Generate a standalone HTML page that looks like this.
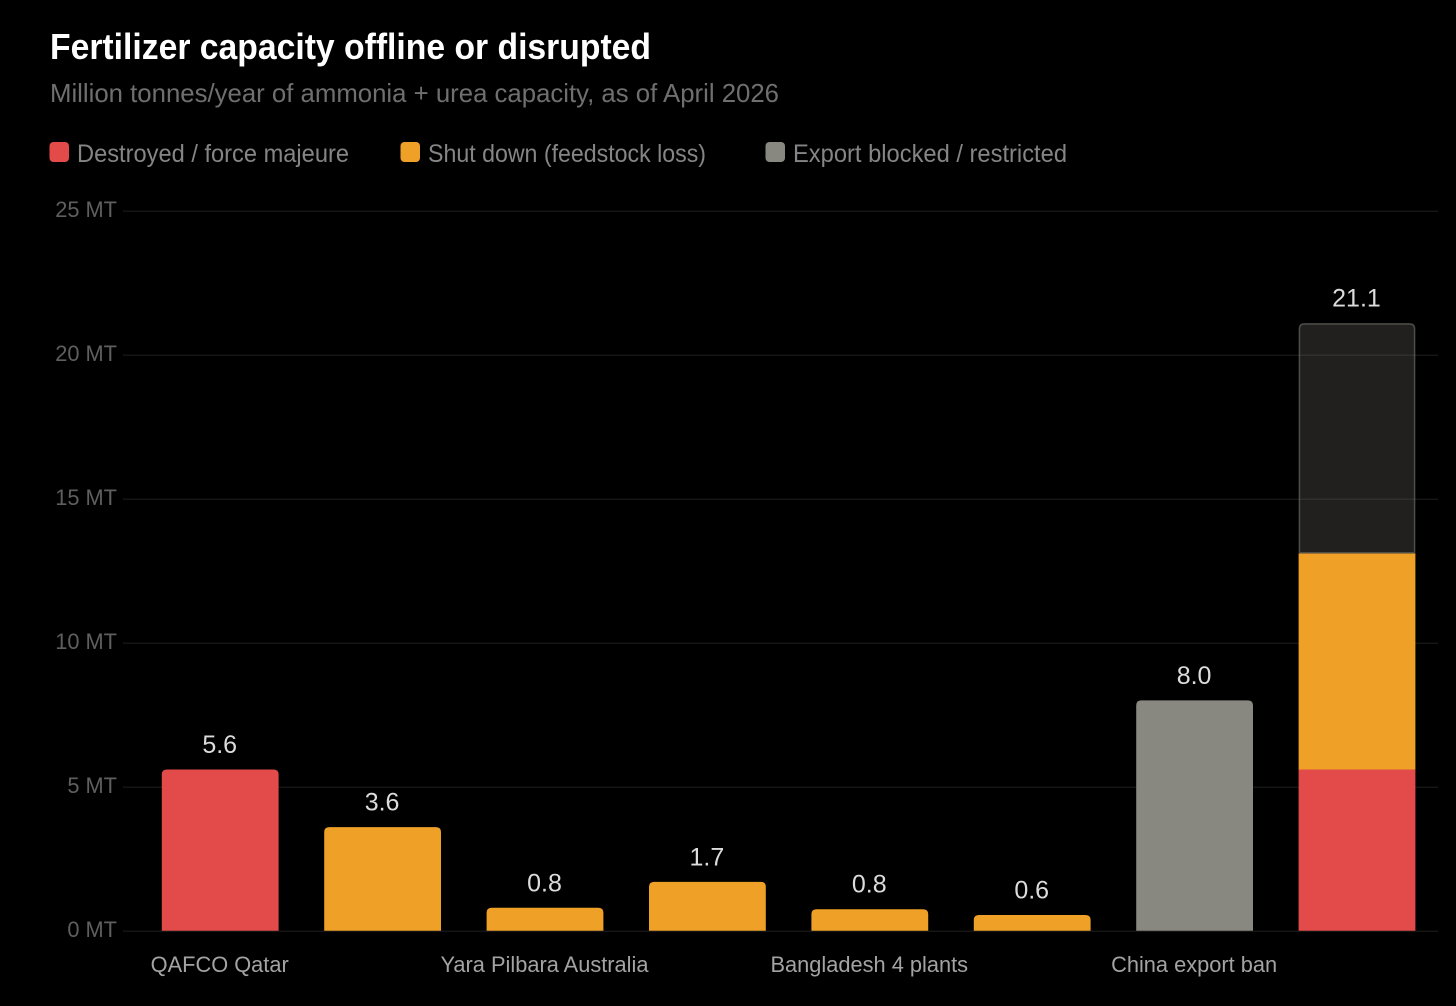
<!DOCTYPE html>
<html lang="en">
<head>
<meta charset="utf-8">
<title>Fertilizer capacity offline or disrupted</title>
<style>
  html, body { margin: 0; padding: 0; background: #000; }
  body { width: 1456px; height: 1006px; overflow: hidden; }
  svg { display: block; font-family: "Liberation Sans", Arial, sans-serif; }
</style>
</head>
<body>
<svg id="chart" width="1456" height="1006" viewBox="0 0 1456 1006" xmlns="http://www.w3.org/2000/svg">
  <rect x="0" y="0" width="1456" height="1006" fill="#000"/>
  <text x="50" y="59" font-size="36" font-weight="700" fill="#fff" textLength="601" lengthAdjust="spacingAndGlyphs">Fertilizer capacity offline or disrupted</text>
  <text x="50" y="102" font-size="26" fill="#6f6f6f" textLength="729" lengthAdjust="spacingAndGlyphs">Million tonnes/year of ammonia + urea capacity, as of April 2026</text>
  <g>
    <g>
      <rect x="49.5" y="142" width="19.5" height="20" rx="4" fill="#e24b4a"/>
      <text x="77" y="162" font-size="25" fill="#858585" textLength="272" lengthAdjust="spacingAndGlyphs">Destroyed / force majeure</text>
    </g>
    <g>
      <rect x="400.5" y="142" width="19.5" height="20" rx="4" fill="#efa027"/>
      <text x="428" y="162" font-size="25" fill="#858585" textLength="278" lengthAdjust="spacingAndGlyphs">Shut down (feedstock loss)</text>
    </g>
    <g>
      <rect x="765.5" y="142" width="19.5" height="20" rx="4" fill="#888780"/>
      <text x="793" y="162" font-size="25" fill="#858585" textLength="274" lengthAdjust="spacingAndGlyphs">Export blocked / restricted</text>
    </g>
  </g>
  <g id="grid"></g>
  <g id="ylabels"></g>
  <g id="bars"></g>
  <g id="values"></g>
  <g id="xlabels"></g>
</svg>
<script>
// Labels the reference leaves hidden (auto-skipped on the axis) stay empty here.
var categories = ["QAFCO Qatar", "", "Yara Pilbara Australia", "", "Bangladesh 4 plants", "", "China export ban", ""];
var destroyed = [5.6, 0, 0, 0, 0, 0, 0, 5.6];
var shutDown = [0, 3.6, 0.8, 1.7, 0.75, 0.55, 0, 7.5];
var blocked = [0, 0, 0, 0, 0, 0, 8.0, 0];
var totalRemainder = [0, 0, 0, 0, 0, 0, 0, 8.0];
var yTicks = [0, 5, 10, 15, 20, 25];

var NS = "http://www.w3.org/2000/svg";

function xCenter(i) {
  return 139 + 162.4 * (i + 0.5);
}
function yPos(v) {
  return 930.8 - 28.8 * v;
}
function gridY(v) {
  return 931.2 - 28.8 * v;
}
function segmentPath(cx, y0, y1, rounded, inset) {
  var w = 116.8 - inset * 2;
  var l = cx - w / 2;
  var r = cx + w / 2;
  var top = y1 + inset;
  var bottom = y0 - inset;
  var rad = rounded ? Math.min(5, (bottom - top)) : 0;
  return "M" + l + " " + bottom +
    "V" + (top + rad) +
    "Q" + l + " " + top + " " + (l + rad) + " " + top +
    "H" + (r - rad) +
    "Q" + r + " " + top + " " + r + " " + (top + rad) +
    "V" + bottom + "Z";
}

var gridGroup = document.getElementById("grid");
var yLabelGroup = document.getElementById("ylabels");
var barGroup = document.getElementById("bars");
var valueGroup = document.getElementById("values");
var xLabelGroup = document.getElementById("xlabels");

yTicks.forEach(function (t) {
  var line = document.createElementNS(NS, "line");
  
  
  line.setAttribute("x1", 123);
  line.setAttribute("x2", 1438);
  line.setAttribute("y1", gridY(t));
  line.setAttribute("y2", gridY(t));
  line.setAttribute("stroke", "#151515");
  line.setAttribute("stroke-width", "1.5");
  gridGroup.appendChild(line);

  var label = document.createElementNS(NS, "text");
  
  
  label.setAttribute("x", 117);
  label.setAttribute("y", gridY(t) + 6);
  label.setAttribute("text-anchor", "end");
  label.setAttribute("font-size", "21.8");
  label.setAttribute("fill", "#5f5f5f");
  label.textContent = t + " MT";
  yLabelGroup.appendChild(label);
});

var seriesList = [
  { values: destroyed, fill: "#e24b4a", stroke: "none" },
  { values: shutDown, fill: "#efa027", stroke: "none" },
  { values: blocked, fill: "#888780", stroke: "none" },
  { values: totalRemainder, fill: "rgba(136,135,128,0.24)", stroke: "rgba(136,135,128,0.5)" }
];

categories.forEach(function (name, i) {
  var base = 0;
  var cx = xCenter(i);
  var topSeries = -1;
  seriesList.forEach(function (s, k) {
    if (s.values[i] > 0) { topSeries = k; }
  });
  seriesList.forEach(function (s, k) {
    var v = s.values[i];
    if (v <= 0) { return; }
    var inset = s.stroke === "none" ? 0 : 0.8;
    var bar = document.createElementNS(NS, "path");
    
    
    bar.setAttribute("d", segmentPath(cx, yPos(base), yPos(base + v), k === topSeries, inset));
    bar.setAttribute("fill", s.fill);
    bar.setAttribute("stroke", s.stroke);
    if (s.stroke !== "none") { bar.setAttribute("stroke-width", "1.5"); }
    barGroup.appendChild(bar);
    base += v;
  });

  var value = document.createElementNS(NS, "text");
  
  
  value.setAttribute("x", cx - 0.5);
  value.setAttribute("y", yPos(base) - 16.5);
  value.setAttribute("text-anchor", "middle");
  value.setAttribute("font-size", "25");
  value.setAttribute("fill", "#dcdcdc");
  value.textContent = base.toFixed(1);
  valueGroup.appendChild(value);

  if (name) {
    var cat = document.createElementNS(NS, "text");
    
    
    cat.setAttribute("x", cx - 0.5);
    cat.setAttribute("y", 972);
    cat.setAttribute("text-anchor", "middle");
    cat.setAttribute("font-size", "21.8");
    cat.setAttribute("fill", "#a3a3a3");
    cat.textContent = name;
    xLabelGroup.appendChild(cat);
  }
});
</script>
</body>
</html>
